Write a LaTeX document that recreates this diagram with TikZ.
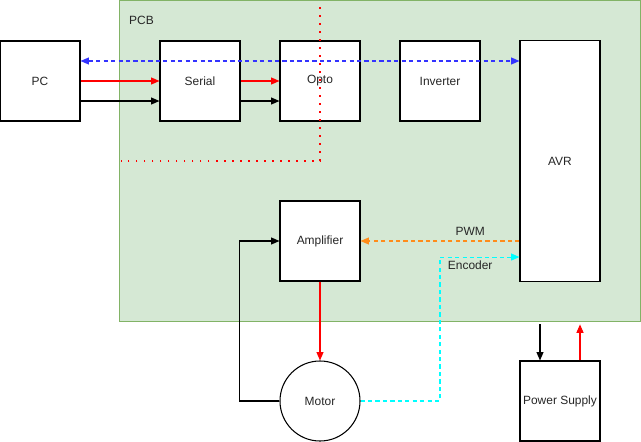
\documentclass[tikz,border=0pt]{standalone}
\usepackage{fontspec}
\setmainfont{Liberation Sans}
\usetikzlibrary{arrows.meta}
\definecolor{pcbfill}{HTML}{D5E8D4}
\definecolor{pcbline}{HTML}{82B366}
\definecolor{pwmorange}{HTML}{FF8C1A}
\definecolor{datablue}{HTML}{3333FF}
\definecolor{enccyan}{HTML}{00FFFF}

\begin{document}
\begin{tikzpicture}[
    x=0.025cm, y=-0.025cm,
    line width=0.75pt,
    every node/.style={font=\fontsize{8.5}{10}\selectfont, text=black!85},
    block/.style={rectangle, draw, fill=white, line width=0.75pt, minimum width=2cm, minimum height=2cm, align=center, inner sep=0pt},
    pcbbox/.style={rectangle, draw=pcbline, fill=pcbfill, line width=0.75pt, minimum width=13cm, minimum height=8cm},
    motorbox/.style={circle, draw, fill=white, line width=0.75pt, minimum size=2cm, inner sep=0pt},
    arrow/.style={-{Triangle[length=6pt, width=5pt]}},
    boundary/.style={red, line width=1.3pt, dash pattern=on 1.3pt off 4.4pt},
    databus/.style={datablue, dash pattern=on 3pt off 2.3pt, {Triangle[length=6pt, width=5pt]}-{Triangle[length=6pt, width=5pt]}},
    pwmline/.style={arrow, pwmorange, dash pattern=on 3pt off 2.3pt},
    encline/.style={arrow, enccyan, dash pattern=on 3pt off 2.3pt}
]
\useasboundingbox (0,0) rectangle (641,442);

% PCB area
\node[pcbbox] (pcb) at (380,161) {};
\node[anchor=west] (pcblabel) at (124,20) {PCB};

% Blocks
\node[block] (pc) at (40,81) {PC};
\node[block] (serial) at (200,81) {Serial};
\node[block] (opto) at (320,81) {Opto};
\node[block] (inverter) at (440,81) {Inverter};
\node[block, minimum height=6cm] (avr) at (560,161) {AVR};
\node[block] (amp) at (320,241) {Amplifier};
\node[motorbox] (motor) at (320,401) {Motor};
\node[block] (psu) at (560,401) {Power Supply};

% Isolation boundary
\draw[boundary] (320,7) -- (320,161) -- (121,161);

% Connectors
\draw[databus] ([yshift=0.5cm]pc.east) -- ([yshift=0.5cm]pc.east -| avr.west);
\draw[arrow, red] (pc.east) -- (serial.west);
\draw[arrow] ([yshift=-0.5cm]pc.east) -- ([yshift=-0.5cm]serial.west);
\draw[arrow, red] (serial.east) -- (opto.west);
\draw[arrow] ([yshift=-0.5cm]serial.east) -- ([yshift=-0.5cm]opto.west);
\draw[pwmline] (amp.east -| avr.west) -- node[pos=0.31, above] {PWM} (amp.east);
\draw[encline] (motor.east) -- (440,401) |- node[pos=0.69, below=-1pt] {Encoder} ([yshift=-2.4cm]avr.west);
\draw[arrow, red] (amp.south) -- (motor.north);
\draw[arrow] (motor.west) -- ++(-40,0) |- (amp.west);
\draw[arrow] ([xshift=-0.5cm, yshift=-2pt]psu.north |- pcb.south) -- ([xshift=-0.5cm]psu.north);
\draw[arrow, red] ([xshift=0.5cm]psu.north) -- ([xshift=0.5cm, yshift=-2pt]psu.north |- pcb.south);

\end{tikzpicture}
\end{document}
